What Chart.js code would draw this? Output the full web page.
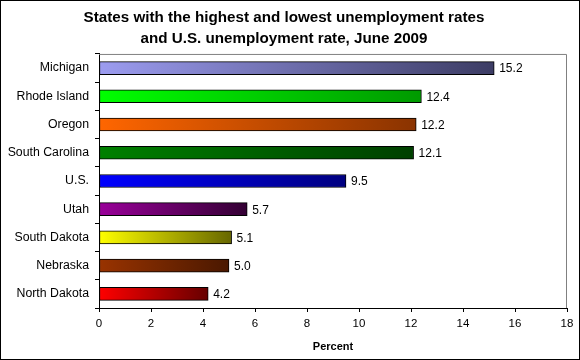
<!DOCTYPE html>
<html>
<head>
<meta charset="utf-8">
<script src="https://cdn.jsdelivr.net/npm/chart.js@4"></script>
<style>
    body { margin: 0; background: #fff; }
    #wrap { width: 580px; height: 360px; box-sizing: border-box; border: 1px solid #000; }
    canvas { display: block; }
</style>
</head>
<body>
<div id="wrap"><canvas id="chart" width="578" height="358"></canvas></div>
<script>
const states = ["Michigan", "Rhode Island", "Oregon", "South Carolina", "U.S.", "Utah", "South Dakota", "Nebraska", "North Dakota"];
const rates = [15.2, 12.4, 12.2, 12.1, 9.5, 5.7, 5.1, 5.0, 4.2];
const xTicks = [0, 2, 4, 6, 8, 10, 12, 14, 16, 18];

// left (light) and right (dark) colours of each bar's gradient
const lightColors = ["#9c9cf0", "#00ff00", "#ff6600", "#008000", "#0000ff", "#990099", "#ffff00", "#993300", "#ff0000"];
const darkColors = ["#3c3c64", "#009a00", "#8a3300", "#004000", "#000080", "#330033", "#666600", "#4a1800", "#660000"];

function barGradient(context) {
    let chart = context.chart;
    let i = context.dataIndex;
    let xScale = chart.scales.x;
    if (!chart.chartArea || !xScale || i === undefined) return lightColors[i] || "#000";
    let x0 = xScale.getPixelForValue(0);
    let x1 = xScale.getPixelForValue(rates[i]);
    let g = chart.ctx.createLinearGradient(x0, 0, x1, 0);
    g.addColorStop(0, lightColors[i]);
    g.addColorStop(1, darkColors[i]);
    return g;
}

const extras = {
    id: "extras",
    beforeDatasetsDraw(chart) {
        let a = chart.chartArea;
        let ctx = chart.ctx;
        ctx.save();
        ctx.strokeStyle = "#808080";
        ctx.lineWidth = 1;
        ctx.beginPath();
        ctx.moveTo(a.left, a.top + 0.5);
        ctx.lineTo(a.right - 0.5, a.top + 0.5);
        ctx.lineTo(a.right - 0.5, a.bottom);
        ctx.stroke();
        ctx.restore();
    },
    afterDatasetsDraw(chart) {
        let ctx = chart.ctx;
        ctx.save();
        ctx.font = "12px 'Liberation Sans', Arial, sans-serif";
        ctx.fillStyle = "#000";
        ctx.textBaseline = "middle";
        ctx.textAlign = "left";
        chart.getDatasetMeta(0).data.forEach((bar, i) => {
            ctx.fillText(rates[i].toFixed(1), bar.x + 5, bar.y + 1);
        });
        ctx.restore();
    }
};

new Chart(document.getElementById("chart"), {
    type: "bar",
    data: {
        labels: states,
        datasets: [{
            data: rates,
            backgroundColor: barGradient,
            borderColor: "#000",
            borderWidth: 1,
            borderSkipped: false,
            barThickness: 13
        }]
    },
    options: {
        indexAxis: "y",
        responsive: false,
        animation: false,
        events: [],
        layout: { padding: { top: 0, right: 12, bottom: 1, left: 0 } },
        plugins: {
            legend: { display: false },
            tooltip: { enabled: false },
            title: {
                display: true,
                text: ["States with the highest and lowest unemployment rates", "and U.S. unemployment rate, June 2009"],
                color: "#000",
                font: { family: "'Liberation Sans', Arial, sans-serif", size: 15.2, weight: "bold", lineHeight: 1.38 },
                padding: { top: 6, bottom: 5 }
            }
        },
        scales: {
            x: {
                min: 0,
                max: 18,
                afterBuildTicks: scale => { scale.ticks = xTicks.map(v => ({ value: v })); },
                afterFit: scale => { scale.height = 50; },
                grid: { drawOnChartArea: false, tickLength: 4, color: "#000" },
                border: { color: "#000" },
                ticks: {
                    color: "#000",
                    padding: 5,
                    font: { family: "'Liberation Sans', Arial, sans-serif", size: 11.5 }
                },
                title: {
                    display: true,
                    text: "Percent",
                    color: "#000",
                    padding: { top: 4 },
                    font: { family: "'Liberation Sans', Arial, sans-serif", size: 11, weight: "bold" }
                }
            },
            y: {
                afterFit: scale => { scale.width = 98; },
                grid: { drawOnChartArea: false, tickLength: 4, color: "#000", offset: true },
                border: { color: "#000" },
                ticks: {
                    color: "#000",
                    padding: 6,
                    font: { family: "'Liberation Sans', Arial, sans-serif", size: 12.3 }
                }
            }
        }
    },
    plugins: [extras]
});
</script>
</body>
</html>
